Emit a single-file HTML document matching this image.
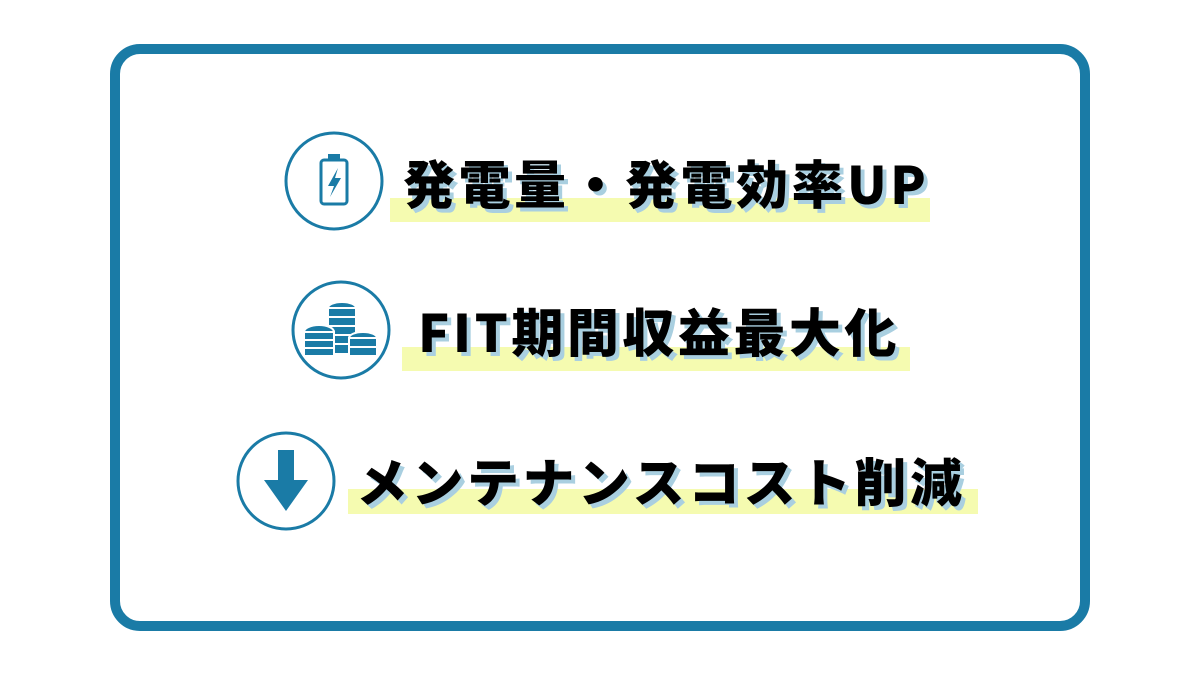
<!DOCTYPE html>
<html><head><meta charset="utf-8"><style>
body{margin:0;width:1200px;height:675px;background:#fff;position:relative;overflow:hidden;font-family:"Liberation Sans","Noto Sans CJK JP",sans-serif}
.frame{position:absolute;left:110px;top:44px;width:960px;height:567px;border:10px solid #1a7ba6;border-radius:30px}
.hl{position:absolute;background:#f5fbb0}
.t{position:absolute;font-family:"Noto Sans CJK JP",sans-serif;font-weight:900;font-size:52px;line-height:1;white-space:nowrap;color:#000;text-shadow:4px 4px 0 #a9cfe0;letter-spacing:3.5px}
svg{position:absolute;left:0;top:0}
</style></head><body>
<div class="frame"></div>
<div class="hl" style="left:390px;top:198px;width:540px;height:24px"></div>
<div class="hl" style="left:402px;top:347px;width:508px;height:24px"></div>
<div class="hl" style="left:348px;top:489px;width:630px;height:25px"></div>
<div class="t" style="left:403px;top:156px">発電量・発電効率UP</div>
<div class="t" style="left:418px;top:304px">FIT期間収益最大化</div>
<div class="t" style="left:356px;top:454px">メンテナンスコスト削減</div>
<svg width="1200" height="675">
<g fill="none" stroke="#1a7ba6" stroke-width="3">
<circle cx="334" cy="181" r="48"/>
<circle cx="341" cy="330" r="48"/>
<circle cx="286" cy="481" r="48"/>
<rect x="321" y="160" width="26" height="44" rx="3"/>
</g>
<g fill="#1a7ba6">
<rect x="328" y="154" width="12" height="6"/>
<polygon points="338,168 328,186 334,186 330,197 341,178 335,178"/>
<polygon points="278,450 294,450 294,480 308,480 286,511 264,480 278,480"/>
<g stroke="#fff" stroke-width="2">
<ellipse cx="342" cy="308" rx="14" ry="6"/><rect x="328" y="308" width="28" height="9"/><rect x="328" y="317" width="28" height="9"/><rect x="328" y="326" width="28" height="9"/><rect x="328" y="335" width="28" height="9"/><rect x="328" y="344" width="28" height="10"/>
<ellipse cx="319" cy="332" rx="15" ry="7"/><rect x="304" y="332" width="30" height="8"/><rect x="304" y="340" width="30" height="8"/><rect x="304" y="348" width="30" height="8"/>
<ellipse cx="363" cy="338" rx="14" ry="6"/><rect x="349" y="338" width="28" height="9"/><rect x="349" y="347" width="28" height="9"/>
</g>
</g>
</svg>
</body></html>
